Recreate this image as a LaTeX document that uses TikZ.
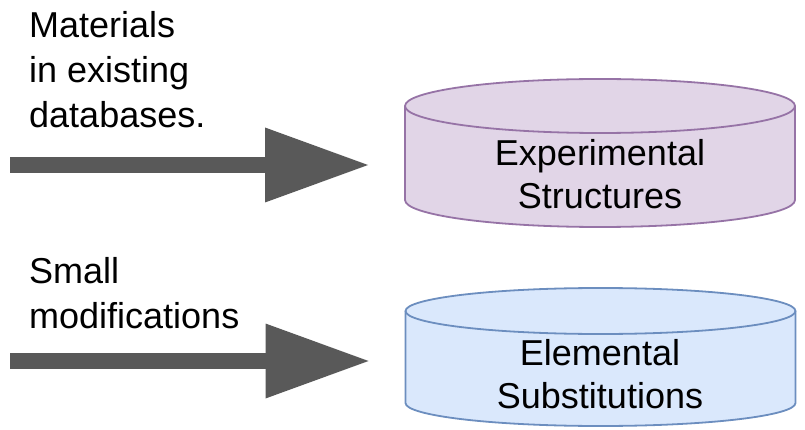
\documentclass[tikz,border=0pt]{standalone}
\usepackage{fontspec}
\setmainfont{Liberation Sans}
\usetikzlibrary{positioning}
\usetikzlibrary{arrows.meta}
\definecolor{expfill}{HTML}{E1D5E7}
\definecolor{expline}{HTML}{9673A6}
\definecolor{subfill}{HTML}{DAE8FC}
\definecolor{subline}{HTML}{6C8EBF}
\definecolor{arrowgray}{HTML}{595959}
\newcommand{\DBwidth}{390pt}
\tikzset{DB/.style={
		rectangle,
		inner sep = 0pt,
		outer sep = 0pt,
		minimum width=\DBwidth,
	},
}
\tikzset{DBline/.style={
		line width=1.8pt,
		line join=round,
	},
}
% drum round a DB node: name, end radius, fill, line
\newcommand{\drawDB}[4]{
	\draw[DBline, fill=#3, draw=#4] ([yshift=-#2]#1.north west) -- ([yshift=#2]#1.south west)
		arc[start angle=180, end angle=360, x radius=0.5*\DBwidth, y radius=#2]
		-- ([yshift=-#2]#1.north east)
		arc[start angle=0, end angle=180, x radius=0.5*\DBwidth, y radius=#2] -- cycle;
	\draw[DBline, draw=#4] ([yshift=-#2]#1.north west)
		arc[start angle=180, end angle=360, x radius=0.5*\DBwidth, y radius=#2];
}
\tikzset{DBtext/.style={
		inner sep = 0pt,
		align=center,
		anchor=north,
		font=\fontsize{36}{43}\selectfont,
	},
}
\tikzset{source/.style={
		inner sep = 0pt,
		align=left,
		anchor=north west,
		font=\fontsize{36}{45}\selectfont,
	},
}
\tikzset{feed/.style={
		draw=arrowgray,
		line width=16pt,
		-{Triangle[length=103pt, width=75pt, line width=0pt, fill=arrowgray]},
	},
}

\begin{document}
\begin{tikzpicture}[x=1pt, y=-1pt]
\useasboundingbox (0,0) rectangle (805,430);

% stores
\node[DB, minimum height=148pt] (expdb) at (600,153) {};
\node[DB, minimum height=138pt] (subdb) at (600.5,357) {};

\drawDB{expdb}{27pt}{expfill}{expline}
\drawDB{subdb}{23pt}{subfill}{subline}

\node[DBtext] (exptext) at (600,139) {Experimental\\Structures};
\node[DBtext] (subtext) at (600,339) {Elemental\\Substitutions};

% inputs
\node[source] (mat) at (29,11.3) {Materials\\in existing\\databases.};
\node[source] (small) at (29,257.3) {Small\\modifications};

\coordinate (in1) at (10,165);
\coordinate[left = 37pt of expdb.west|-in1] (out1);
\coordinate (in2) at (10,361);
\coordinate[left = 37pt of subdb.west|-in2] (out2);

\draw[feed] (in1) -- (out1);
\draw[feed] (in2) -- (out2);

\end{tikzpicture}
\end{document}
